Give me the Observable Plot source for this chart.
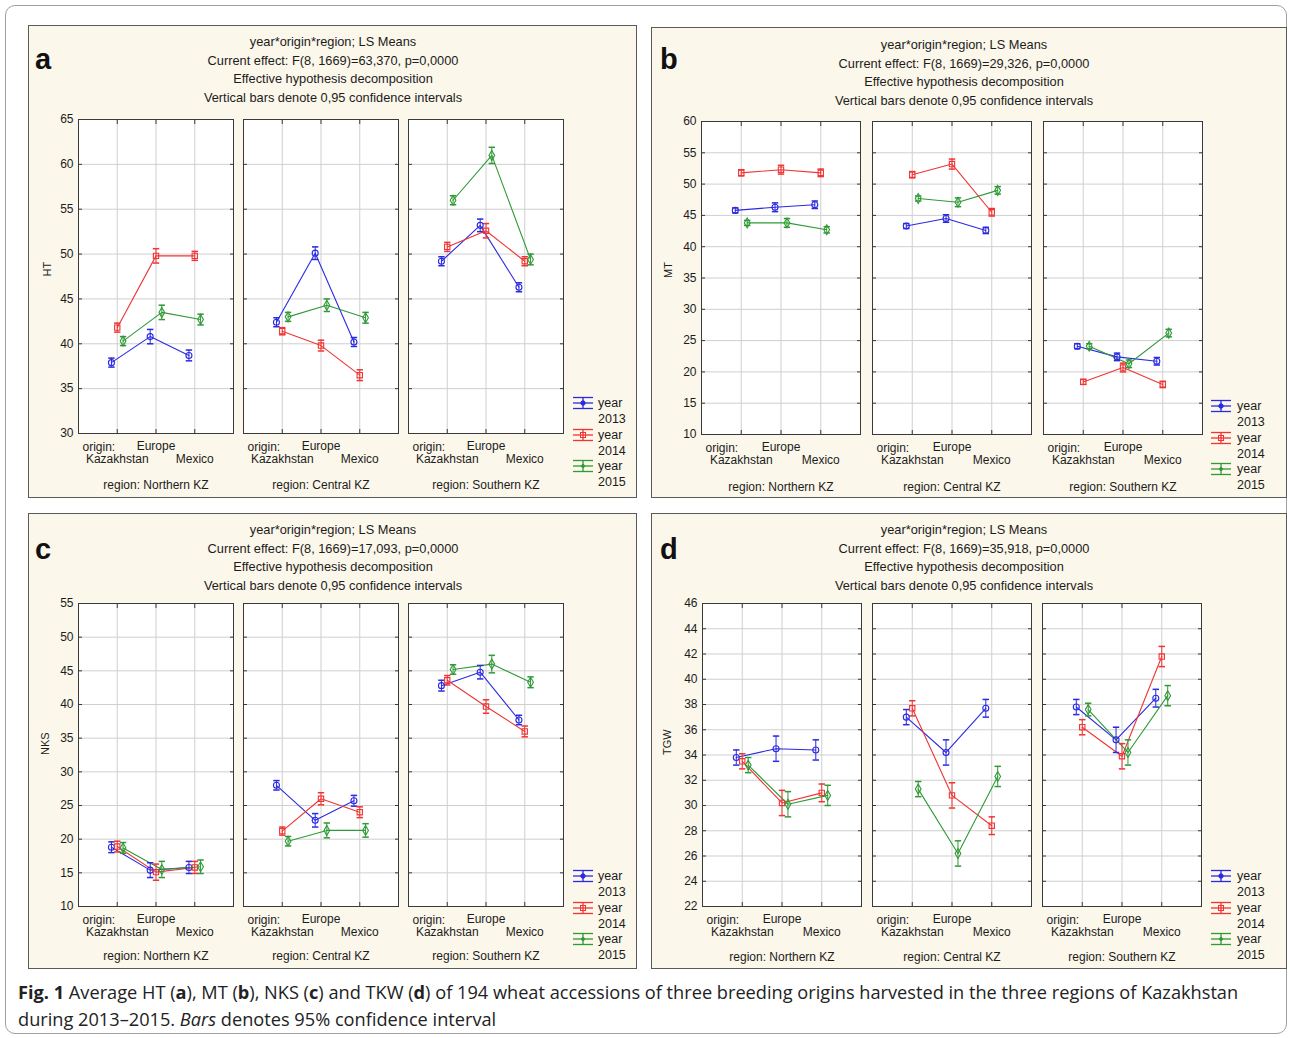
<!DOCTYPE html>
<html>
<head>
<meta charset="utf-8">
<script src="https://cdn.jsdelivr.net/npm/d3@7"></script>
<script src="https://cdn.jsdelivr.net/npm/@observablehq/plot@0.6"></script>
<style>
  body { margin: 0; background: #fff; font-family: "Liberation Sans", Arial, sans-serif; }
  #root { position: relative; width: 1290px; height: 1038px; overflow: hidden; }
  .outer { position: absolute; left: 5px; top: 5px; width: 1282px; height: 1029px; border: 1px solid #a0a0a0; border-radius: 10px; box-sizing: border-box; }
  .panel { position: absolute; background: #fbf7ea; border: 1.5px solid #5a5a5a; box-sizing: border-box; }
  .ptitle { position: absolute; transform: translateX(-50%); white-space: nowrap; font-size: 12.8px; color: #1c1c1c; line-height: 18.6px; text-align: center; }
  .plabel { position: absolute; font-weight: bold; font-size: 29px; color: #111; line-height: 1; font-family: "Liberation Sans", Arial, sans-serif; }
  .chart { position: absolute; }
  .leg { position: absolute; font-size: 12.5px; color: #1c1c1c; }
  .caption { position: absolute; left: 18px; top: 979px; font-family: "Open Sans", "Noto Sans", sans-serif; font-size: 18.2px; line-height: 27px; white-space: nowrap; color: #222; }
</style>
</head>
<body>
<div id="root"><div class="outer"></div></div>
<script>
// ---------- data ----------
const years = ["2013", "2014", "2015"];
const origins = ["Kazakhstan", "Europe", "Mexico"];
const regions = ["Northern KZ", "Central KZ", "Southern KZ"];

// each array: Northern K,E,M | Central K,E,M | Southern K,E,M
// HT (panel a)
const ht2013 = [37.9, 40.8, 38.7, 42.4, 50.1, 40.2, 49.2, 53.2, 46.3];
const ht2014 = [41.8, 49.8, 49.8, 41.4, 39.8, 36.5, 50.8, 52.6, 49.2];
const ht2015 = [40.3, 43.5, 42.7, 43.0, 44.3, 42.9, 56.0, 61.0, 49.4];
const htCi2013 = [0.5, 0.8, 0.6, 0.5, 0.7, 0.5, 0.5, 0.7, 0.5];
const htCi2014 = [0.5, 0.8, 0.5, 0.4, 0.6, 0.6, 0.5, 0.8, 0.5];
const htCi2015 = [0.5, 0.8, 0.6, 0.5, 0.7, 0.6, 0.5, 0.9, 0.6];
// MT (panel b)
const mt2013 = [45.8, 46.3, 46.7, 43.3, 44.5, 42.6, 24.1, 22.4, 21.7];
const mt2014 = [51.8, 52.3, 51.8, 51.5, 53.2, 45.5, 18.4, 20.7, 18.0];
const mt2015 = [43.8, 43.8, 42.7, 47.7, 47.1, 49.0, 24.1, 21.3, 26.2];
const mtCi2013 = [0.4, 0.7, 0.6, 0.4, 0.6, 0.5, 0.4, 0.6, 0.6];
const mtCi2014 = [0.5, 0.7, 0.6, 0.5, 0.8, 0.6, 0.4, 0.7, 0.5];
const mtCi2015 = [0.4, 0.7, 0.5, 0.4, 0.7, 0.6, 0.4, 0.6, 0.6];
// NKS (panel c)
const nks2013 = [18.8, 15.4, 15.8, 28.0, 22.8, 25.7, 42.8, 44.8, 37.7];
const nks2014 = [18.9, 15.1, 15.8, 21.2, 26.0, 24.0, 43.6, 39.7, 36.0];
const nks2015 = [18.7, 15.5, 15.9, 19.7, 21.3, 21.3, 45.2, 46.0, 43.3];
const nksCi2013 = [0.8, 1.1, 0.9, 0.7, 1.0, 0.8, 0.8, 1.0, 0.7];
const nksCi2014 = [0.8, 1.2, 0.9, 0.6, 0.9, 0.8, 0.7, 1.0, 0.8];
const nksCi2015 = [0.8, 1.2, 1.0, 0.7, 1.1, 1.0, 0.7, 1.3, 0.8];
// TGW (panel d)
const tgw2013 = [33.8, 34.5, 34.4, 37.0, 34.2, 37.7, 37.8, 35.2, 38.5];
const tgw2014 = [33.5, 30.2, 31.0, 37.7, 30.8, 28.4, 36.2, 33.9, 41.8];
const tgw2015 = [33.2, 30.1, 30.8, 31.3, 26.2, 32.3, 37.6, 34.2, 38.7];
const tgwCi2013 = [0.6, 1.0, 0.8, 0.6, 1.0, 0.7, 0.6, 1.0, 0.7];
const tgwCi2014 = [0.6, 1.0, 0.7, 0.6, 1.0, 0.7, 0.6, 1.0, 0.8];
const tgwCi2015 = [0.6, 1.0, 0.8, 0.6, 1.0, 0.8, 0.5, 1.0, 0.8];

// tick labels
const htTicks = [30, 35, 40, 45, 50, 55, 60, 65];
const mtTicks = [10, 15, 20, 25, 30, 35, 40, 45, 50, 55, 60];
const nksTicks = [10, 15, 20, 25, 30, 35, 40, 45, 50, 55];
const tgwTicks = [22, 24, 26, 28, 30, 32, 34, 36, 38, 40, 42, 44, 46];

// titles
const fStats = ["63,370", "29,326", "17,093", "35,918"];
const panelLetters = ["a", "b", "c", "d"];

// ---------- styles ----------
const COLORS = ["#2a2ae0", "#f03434", "#2f9a36"];
const SYMS = ["circle", "square", "diamond"];
const DODGE = [-0.15, 0, 0.15];
const root = document.getElementById("root");

const capSymbol = { draw(ctx, size) { const w = Math.sqrt(size / Math.PI); ctx.moveTo(-w, 0); ctx.lineTo(w, 0); } };

function facetChart({ vals, cis, r, yDomain, yTicks, frameW, frameH, first, yLabel, regionDy, labelDx }) {
  const rows = [];
  years.forEach((yr, yi) => origins.forEach((o, oi) => {
    const k = r * 3 + oi;
    rows.push({ year: yr, x: oi + 1 + DODGE[yi], v: vals[yi][k], ci: cis[yi][k] });
  }));
  const mL = first ? 52 : 3, mR = 3, mT = 8, mB = 62;
  const marks = [
    Plot.frame({ fill: "white", stroke: null }),
    Plot.gridY(yTicks, { stroke: "#cfcfcf", strokeOpacity: 1 }),
    Plot.gridX([1, 2, 3], { stroke: "#cfcfcf", strokeOpacity: 1 }),
    Plot.line(rows, { x: "x", y: "v", z: "year", stroke: "year", strokeWidth: 1.1 }),
    Plot.ruleX(rows, { x: "x", y1: d => d.v - d.ci, y2: d => d.v + d.ci, stroke: "year", strokeWidth: 1 }),
    Plot.dot(rows, { x: "x", y: d => d.v - d.ci, symbol: capSymbol, r: 3.2, stroke: "year", fill: "none" }),
    Plot.dot(rows, { x: "x", y: d => d.v + d.ci, symbol: capSymbol, r: 3.2, stroke: "year", fill: "none" }),
    Plot.dot(rows, { x: "x", y: "v", symbol: "year", r: 3, stroke: "year", fill: "none", strokeWidth: 1.1 }),
    Plot.frame({ stroke: "#3a3a3a", strokeWidth: 1 }),
    Plot.axisY(yTicks, { anchor: "left", tickSize: 4, dx: 4, tickFormat: () => "", label: null, stroke: "#3a3a3a" }),
    Plot.axisY(yTicks, { anchor: "right", tickSize: 4, dx: -4, tickFormat: () => "", label: null, stroke: "#3a3a3a" }),
    Plot.axisX([1, 2, 3], { anchor: "top", tickSize: 4, dy: 4, tickFormat: () => "", label: null, stroke: "#3a3a3a" }),
    Plot.axisX([1, 2, 3], { anchor: "bottom", tickSize: 4, dy: -4, tickFormat: () => "", label: null, stroke: "#3a3a3a" }),
    Plot.axisX([2], { anchor: "bottom", tickSize: 0, tickPadding: 8, tickFormat: d => origins[d - 1], label: null, fill: "#1c1c1c" }),
    Plot.axisX([1, 3], { anchor: "bottom", tickSize: 0, tickPadding: 21, tickFormat: d => origins[d - 1], label: null, fill: "#1c1c1c" }),
    Plot.text(["origin:"], { text: d => d, frameAnchor: "bottom-left", dx: 4, dy: 14, textAnchor: "start", lineAnchor: "middle", fill: "#1c1c1c" }),
    Plot.text(["region: " + regions[r]], { text: d => d, frameAnchor: "bottom", dy: regionDy, lineAnchor: "middle", fill: "#1c1c1c" })
  ];
  if (first) {
    marks.push(Plot.axisY(yTicks, { anchor: "left", tickSize: 0, tickPadding: 5, label: null, fill: "#1c1c1c" }));
    marks.push(Plot.text([yLabel], { text: d => d, frameAnchor: "left", dx: labelDx, rotate: -90, fontSize: 11, fill: "#1c1c1c" }));
  }
  const svg = Plot.plot({
    width: mL + frameW + mR, height: mT + frameH + mB,
    marginLeft: mL, marginRight: mR, marginTop: mT, marginBottom: mB,
    x: { domain: [0, 4] },
    y: { domain: yDomain },
    color: { domain: years, range: COLORS },
    symbol: { domain: years, range: SYMS },
    style: { background: "transparent", fontFamily: "'Liberation Sans', Arial, sans-serif", fontSize: "12px", color: "#1c1c1c", overflow: "visible" },
    marks
  });
  return { svg, mL, mT };
}

function addDiv(cls, css, html) {
  const d = document.createElement("div");
  d.className = cls;
  Object.assign(d.style, css);
  if (html != null) d.innerHTML = html;
  root.appendChild(d);
  return d;
}

function legendIcon(color, yi) {
  const marker = yi === 0
    ? `<circle cx="12" cy="7" r="2.2" fill="${color}" stroke="${color}"/>`
    : yi === 1
      ? `<rect x="9.5" y="4.5" width="5" height="5" fill="none" stroke="${color}"/>`
      : `<circle cx="12" cy="7" r="1.5" fill="${color}" stroke="${color}"/>`;
  return `<svg width="24" height="14" style="position:absolute;left:0;top:0;overflow:visible">
    <g stroke="${color}" stroke-width="1.3" fill="none">
      <line x1="2" x2="22" y1="1.5" y2="1.5"/>
      <line x1="2" x2="22" y1="12.5" y2="12.5"/>
      <line x1="2" x2="22" y1="7" y2="7"/>
      <line x1="12" x2="12" y1="1.5" y2="12.5"/>
    </g>${marker}</svg>`;
}

const panels = [
  { box: [28, 25, 609, 473], title: [333, 33], letter: [35, 45], vals: [ht2013, ht2014, ht2015], cis: [htCi2013, htCi2014, htCi2015],
    domain: [30, 65], ticks: htTicks, lefts: [78, 243, 408], frameW: 155, top: 119, frameH: 314, label: "HT", regionDy: 52, labelDx: -31,
    legend: [583, 403, 598] },
  { box: [651, 27, 636, 471], title: [964, 36], letter: [660, 45], vals: [mt2013, mt2014, mt2015], cis: [mtCi2013, mtCi2014, mtCi2015],
    domain: [10, 60], ticks: mtTicks, lefts: [701, 872, 1043], frameW: 159, top: 121, frameH: 313, label: "MT", regionDy: 53, labelDx: -33,
    legend: [1221, 406, 1237] },
  { box: [28, 513, 609, 456], title: [333, 521], letter: [35, 535], vals: [nks2013, nks2014, nks2015], cis: [nksCi2013, nksCi2014, nksCi2015],
    domain: [10, 55], ticks: nksTicks, lefts: [78, 243, 408], frameW: 155, top: 603, frameH: 303, label: "NKS", regionDy: 50, labelDx: -33,
    legend: [583, 876, 598] },
  { box: [651, 513, 636, 456], title: [964, 521], letter: [660, 535], vals: [tgw2013, tgw2014, tgw2015], cis: [tgwCi2013, tgwCi2014, tgwCi2015],
    domain: [22, 46], ticks: tgwTicks, lefts: [702, 872, 1042], frameW: 159, top: 603, frameH: 303, label: "TGW", regionDy: 51, labelDx: -35,
    legend: [1221, 876, 1237] }
];

panels.forEach((p, pi) => {
  addDiv("panel", { left: p.box[0] + "px", top: p.box[1] + "px", width: p.box[2] + "px", height: p.box[3] + "px" });
  addDiv("plabel", { left: p.letter[0] + "px", top: p.letter[1] + "px" }, panelLetters[pi]);
  addDiv("ptitle", { left: p.title[0] + "px", top: p.title[1] + "px" },
    `year*origin*region; LS Means<br>Current effect: F(8, 1669)=${fStats[pi]}, p=0,0000<br>Effective hypothesis decomposition<br>Vertical bars denote 0,95 confidence intervals`);
  regions.forEach((reg, r) => {
    const { svg, mL, mT } = facetChart({ vals: p.vals, cis: p.cis, r, yDomain: p.domain, yTicks: p.ticks, frameW: p.frameW, frameH: p.frameH,
      first: r === 0, yLabel: p.label, regionDy: p.regionDy, labelDx: p.labelDx });
    const holder = addDiv("chart", { left: (p.lefts[r] - mL) + "px", top: (p.top - mT) + "px" });
    holder.appendChild(svg);
  });
  // legend
  const [ix, iy, tx] = p.legend;
  years.forEach((yr, yi) => {
    const cy = iy + yi * 31.5;
    addDiv("leg", { left: (ix - 12) + "px", top: (cy - 7) + "px", width: "24px", height: "14px" }, legendIcon(COLORS[yi], yi));
    addDiv("leg", { left: tx + "px", top: (cy - 8) + "px", lineHeight: "16px" }, "year<br>" + yr);
  });
});

addDiv("caption", {}, `<b>Fig. 1</b> Average HT (<b>a</b>), MT (<b>b</b>), NKS (<b>c</b>) and TKW (<b>d</b>) of 194 wheat accessions of three breeding origins harvested in the three regions of Kazakhstan<br>during 2013–2015. <i>Bars</i> denotes 95% confidence interval`);
</script>
</body>
</html>
